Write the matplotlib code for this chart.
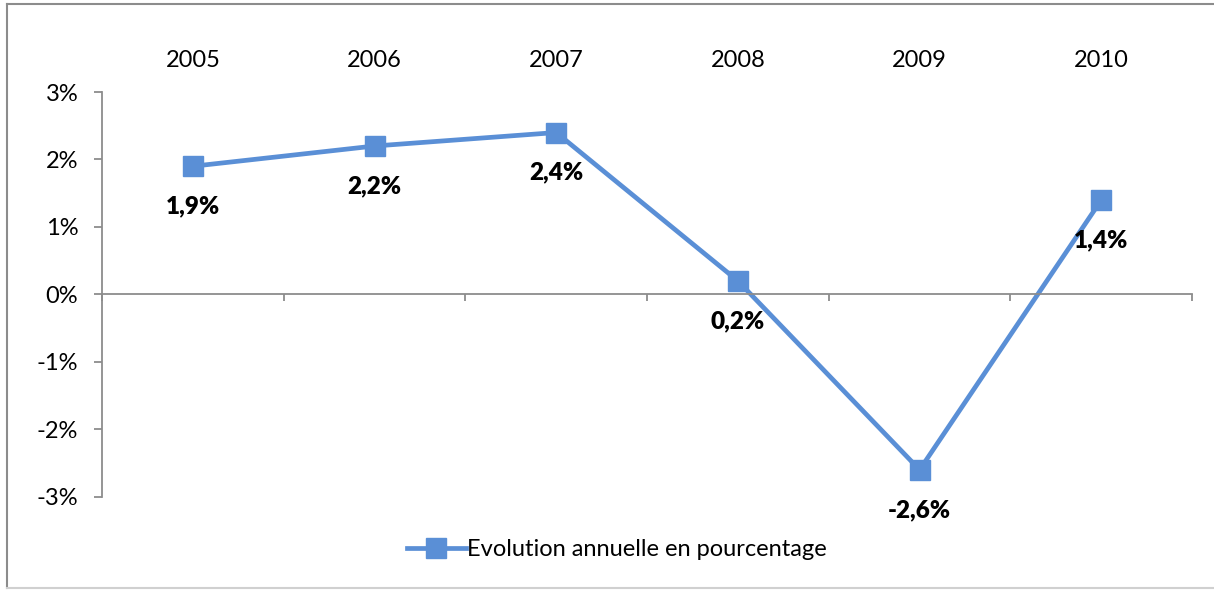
import matplotlib
matplotlib.use("Agg")
import matplotlib.pyplot as plt
from matplotlib.lines import Line2D
from matplotlib.ticker import FixedLocator, FuncFormatter

# --- data
years = ["2005", "2006", "2007", "2008", "2009", "2010"]
values = [1.9, 2.2, 2.4, 0.2, -2.6, 1.4]
labels = ["1,9%", "2,2%", "2,4%", "0,2%", "-2,6%", "1,4%"]
y_ticks = [-3, -2, -1, 0, 1, 2, 3]
series_name = "Evolution annuelle en pourcentage"

blue = "#5A8FD6"
axis_gray = "#8C8C8C"

plt.rcParams["font.family"] = ["Lato", "DejaVu Sans"]

fig = plt.figure(figsize=(12.14, 5.9), dpi=100)
ax = fig.add_axes([0.084, 0.158, 0.898, 0.686])

x = list(range(len(years)))
ax.plot(x, values, color=blue, lw=3.4, marker="s", ms=14.5,
        markerfacecolor=blue, markeredgecolor=blue, solid_joinstyle="miter")

for xi, v, lab in zip(x, values, labels):
    ax.annotate(lab, (xi, v), xytext=(0, -29), textcoords="offset points",
                ha="center", va="center", fontsize=17.5, fontweight="heavy")

ax.set_xlim(-0.5, len(years) - 0.5)
ax.set_ylim(-3, 3)

# spines: left axis + category axis crossing at zero
for s in ("top", "right"):
    ax.spines[s].set_visible(False)
ax.spines["bottom"].set_position(("data", 0))
for s in ("bottom", "left"):
    ax.spines[s].set_color(axis_gray)
    ax.spines[s].set_linewidth(1.3)

# x: labels on top, boundary ticks on the zero line
ax.xaxis.set_major_locator(FixedLocator(x))
ax.set_xticks([i - 0.5 for i in range(len(years) + 1)], minor=True)
ax.set_xticklabels(years)
ax.tick_params(axis="x", which="major", bottom=False, top=False,
               labelbottom=False, labeltop=True, pad=12, labelsize=17)
ax.tick_params(axis="x", which="minor", bottom=True, top=False, length=5,
               width=1.3, color=axis_gray, direction="out")

# y: percent labels
ax.set_yticks(y_ticks)
ax.yaxis.set_major_formatter(FuncFormatter(lambda v, p: f"{int(v)}%"))
ax.tick_params(axis="y", length=6, width=1.3, color=axis_gray, pad=11, labelsize=17)

handle = Line2D([], [], color=blue, lw=3.4, marker="s", ms=14.5,
                markerfacecolor=blue, markeredgecolor=blue)
fig.legend([handle], [series_name], loc="center", bbox_to_anchor=(0.508, 0.068),
           frameon=False, fontsize=17, handlelength=2.5, handletextpad=0.05)

# outer chart frame
fig.add_artist(Line2D([0.0055, 0.0055], [0.003, 0.993], transform=fig.transFigure,
                      color="#8C8C8C", lw=1.5))
fig.add_artist(Line2D([0.0055, 1.0], [0.993, 0.993], transform=fig.transFigure,
                      color="#8C8C8C", lw=1.5))
fig.add_artist(Line2D([0.0055, 1.0], [0.003, 0.003], transform=fig.transFigure,
                      color="#D0D0D0", lw=1.5))

fig.savefig("out.png", dpi=100)
